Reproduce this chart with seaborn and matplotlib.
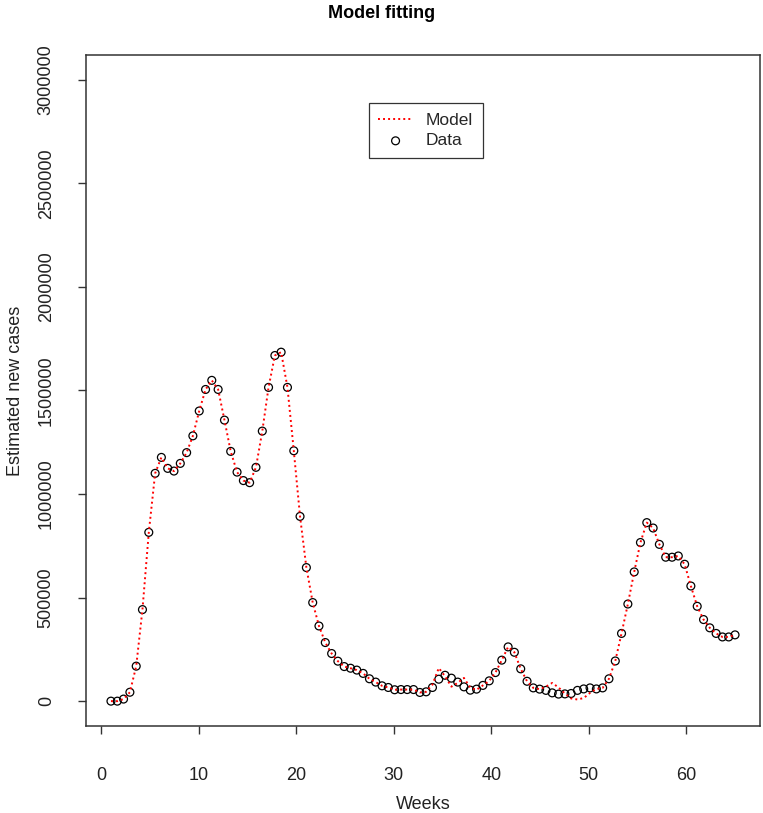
import numpy as np
import pandas as pd
import matplotlib
matplotlib.use("Agg")
import matplotlib.pyplot as plt
import seaborn as sns

weeks = [1.00, 1.65, 2.29, 2.94, 3.59, 4.23, 4.88, 5.53, 6.17, 6.82,
         7.46, 8.11, 8.76, 9.40, 10.05, 10.70, 11.34, 11.99, 12.64, 13.28,
         13.93, 14.58, 15.22, 15.87, 16.52, 17.16, 17.81, 18.45, 19.10, 19.75,
         20.39, 21.04, 21.69, 22.33, 22.98, 23.63, 24.27, 24.92, 25.57, 26.21,
         26.86, 27.51, 28.15, 28.80, 29.44, 30.09, 30.74, 31.38, 32.03, 32.68,
         33.32, 33.97, 34.62, 35.26, 35.91, 36.56, 37.20, 37.85, 38.49, 39.14,
         39.79, 40.43, 41.08, 41.73, 42.37, 43.02, 43.67, 44.31, 44.96, 45.61,
         46.25, 46.90, 47.55, 48.19, 48.84, 49.48, 50.13, 50.78, 51.42, 52.07,
         52.72, 53.36, 54.01, 54.66, 55.30, 55.95, 56.60, 57.24, 57.89, 58.54,
         59.18, 59.83, 60.47, 61.12, 61.77, 62.41, 63.06, 63.71, 64.35, 65.00]

data_cases = [0, 0, 10000, 43000, 169000, 442000, 815000, 1100000, 1177000, 1124000,
              1111000, 1148000, 1200000, 1281000, 1401000, 1505000, 1549000, 1505000, 1357000, 1206000,
              1106000, 1065000, 1055000, 1129000, 1304000, 1515000, 1669000, 1685000, 1515000, 1209000,
              892000, 645000, 476000, 363000, 283000, 230000, 193000, 167000, 159000, 150000,
              134000, 108000, 92000, 74000, 66000, 55000, 56000, 56000, 56000, 42000,
              45000, 66000, 106000, 125000, 111000, 92000, 69000, 53000, 58000, 76000,
              98000, 138000, 198000, 262000, 236000, 156000, 96000, 64000, 58000, 52000,
              40000, 34000, 35000, 37000, 52000, 59000, 64000, 59000, 64000, 108000,
              194000, 327000, 469000, 624000, 766000, 862000, 836000, 757000, 695000, 695000,
              701000, 661000, 556000, 458000, 394000, 354000, 327000, 310000, 310000, 320000]

model_cases = [0, 0, 10000, 43000, 169000, 442000, 815000, 1100000, 1177000, 1124000,
               1111000, 1148000, 1200000, 1281000, 1401000, 1505000, 1549000, 1505000, 1357000, 1206000,
               1106000, 1065000, 1055000, 1129000, 1304000, 1515000, 1669000, 1685000, 1515000, 1209000,
               892000, 645000, 476000, 363000, 283000, 230000, 193000, 167000, 159000, 150000,
               134000, 108000, 92000, 74000, 66000, 55000, 56000, 56000, 56000, 42000,
               45000, 80000, 160000, 120000, 70000, 88000, 112000, 65000, 55000, 76000,
               98000, 138000, 198000, 262000, 236000, 156000, 96000, 64000, 58000, 70000,
               88000, 66000, 37000, 13000, 8000, 15000, 40000, 59000, 64000, 108000,
               194000, 327000, 469000, 624000, 766000, 862000, 836000, 757000, 695000, 695000,
               701000, 661000, 556000, 458000, 394000, 354000, 327000, 310000, 310000, 320000]

x_ticks = [0, 10, 20, 30, 40, 50, 60]
y_ticks = [0, 500000, 1000000, 1500000, 2000000, 2500000, 3000000]

df = pd.DataFrame({"Weeks": weeks, "Data": data_cases, "Model": model_cases})

sns.set_theme(style="ticks")
plt.rcParams["font.family"] = ["Liberation Sans", "DejaVu Sans"]

W, H = 763, 813
fig = plt.figure(figsize=(W / 100, H / 100), dpi=100)
ax = fig.add_axes([86 / W, 1 - 726 / H, 674 / W, 671 / H])

sns.lineplot(data=df, x="Weeks", y="Model", ax=ax, color="red",
             linestyle=(0, (1, 1.6)), linewidth=1.4, label="Model")
sns.scatterplot(data=df, x="Weeks", y="Data", ax=ax, marker="o",
                facecolors="none", edgecolor="black", linewidth=0.9, s=32,
                label="Data")

ax.set_xlim(-1.56, 67.56)
ax.set_ylim(-120000, 3120000)
ax.set_xticks(x_ticks)
ax.set_xticklabels([str(v) for v in x_ticks], fontsize=13)
ax.set_yticks(y_ticks)
ax.set_yticklabels([str(v) for v in y_ticks], fontsize=13, rotation=90,
                   va="center")
ax.tick_params(axis="both", direction="out", length=5.5, width=1,
               color="#333333", labelcolor="#222222")
ax.tick_params(axis="x", pad=24)
ax.tick_params(axis="y", pad=17)
for sp in ax.spines.values():
    sp.set_visible(True)
    sp.set_color("#333333")
    sp.set_linewidth(1.1)

ax.set_xlabel("Weeks", fontsize=13, color="#222222", labelpad=9)
ax.set_ylabel("Estimated new cases", fontsize=13, color="#222222", labelpad=10)
fig.text(382 / W, 1 - 13 / H, "Model fitting", fontsize=13, fontweight="bold",
         ha="center", va="center", color="black")

leg = ax.legend(loc="upper center", bbox_to_anchor=(0.504, 0.928),
                frameon=True, fancybox=False, fontsize=12.5,
                handlelength=2.0, handletextpad=0.75, borderpad=0.55,
                labelspacing=0.3, borderaxespad=0)
leg.get_frame().set_edgecolor("black")
leg.get_frame().set_linewidth(0.9)

fig.savefig("out.png", dpi=100)
